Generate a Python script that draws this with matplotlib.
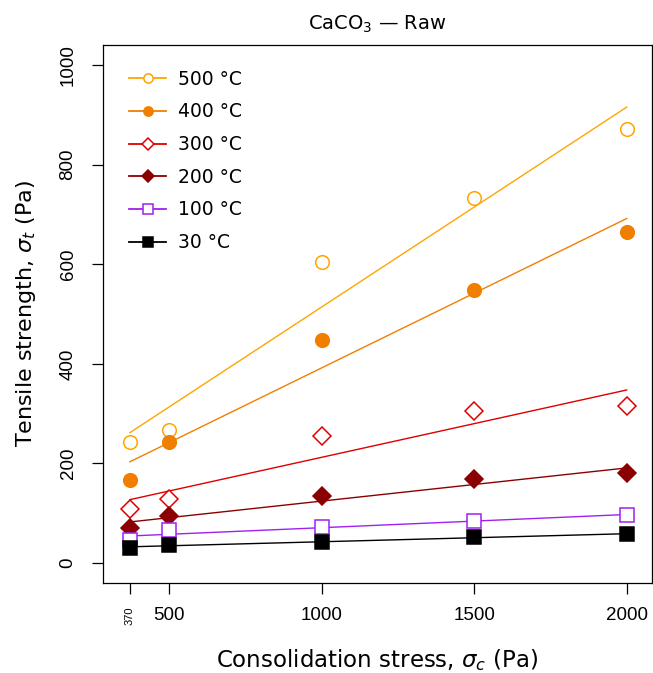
import numpy as np
import matplotlib.pyplot as plt
from matplotlib.lines import Line2D

# Consolidation stress (Pa) and tensile strength (Pa) for each calcination temperature
stress = np.array([370, 500, 1000, 1500, 2000])
temps = ["500 °C", "400 °C", "300 °C", "200 °C", "100 °C", "30 °C"]
t500 = [243, 268, 605, 732, 872]
t400 = [166, 243, 448, 549, 665]
t300 = [109, 128, 255, 305, 315]
t200 = [71, 94, 134, 168, 180]
t100 = [46, 66, 72, 85, 96]
t30 = [31, 36, 43, 52, 58]
series = [t500, t400, t300, t200, t100, t30]

colors = ["#FFA500", "#F07F00", "#DD0000", "#8B0000", "#A020F0", "#000000"]
markers = ["o", "o", "D", "D", "s", "s"]
filled = [False, True, False, True, False, True]
sizes = [9.8, 9.8, 9.6, 9.6, 10, 10]

plt.rcParams["font.family"] = "DejaVu Sans"
plt.rcParams["mathtext.fontset"] = "dejavusans"

fig = plt.figure(figsize=(6.53, 6.73), dpi=100)
ax = fig.add_axes([103 / 653, 1 - 583 / 673, 549 / 653, 538 / 673])

handles = []
for vals, col, mk, fill, ms, lab in zip(series, colors, markers, filled, sizes, temps):
    vals = np.array(vals, dtype=float)
    # least-squares line over the measured stress range
    k, b = np.polyfit(stress, vals, 1)
    xs = np.array([stress.min(), stress.max()])
    ax.plot(xs, k * xs + b, color=col, lw=1.0, zorder=2)
    ax.plot(stress, vals, ls="none", marker=mk, ms=ms,
            mfc=col if fill else "white", mec=col, mew=1.1, zorder=3)
    handles.append(Line2D([0], [0], color=col, lw=1.3, marker=mk, ms=ms * 0.68,
                          mfc=col if fill else "white", mec=col, mew=1.1, label=lab))

ax.set_xlim(282, 2083)
ax.set_ylim(-40, 1040)

ax.set_xticks([370, 500, 1000, 1500, 2000])
ax.set_xticklabels(["370", "500", "1000", "1500", "2000"])
ax.set_yticks([0, 200, 400, 600, 800, 1000])
ax.tick_params(axis="both", direction="out", length=8, width=0.9)
ax.tick_params(axis="x", pad=9)
ax.tick_params(axis="y", pad=11)
for lbl in ax.get_xticklabels() + ax.get_yticklabels():
    lbl.set_family("Liberation Sans")
    lbl.set_fontsize(13.5)
for lbl in ax.get_yticklabels():
    lbl.set_rotation(90)
    lbl.set_va("center")
first = ax.get_xticklabels()[0]
first.set_rotation(90)
first.set_fontsize(8)
first.set_va("top")

for sp in ax.spines.values():
    sp.set_linewidth(0.9)

ax.set_xlabel(r"Consolidation stress, $\sigma_c$ (Pa)", fontsize=16.5)
ax.set_ylabel(r"Tensile strength, $\sigma_t$ (Pa)", fontsize=16)
ax.xaxis.set_label_coords(0.5, -0.12)
ax.yaxis.set_label_coords(-0.118, 0.5)
ax.set_title(r"CaCO$_3$ — Raw", fontsize=14, pad=11)

ax.legend(handles=handles, loc="upper left", bbox_to_anchor=(0.047, 0.954),
          frameon=False, fontsize=13.5, handlelength=2.0, handletextpad=0.6,
          labelspacing=0.73, borderpad=0, borderaxespad=0)

fig.savefig("out.png", dpi=100)
